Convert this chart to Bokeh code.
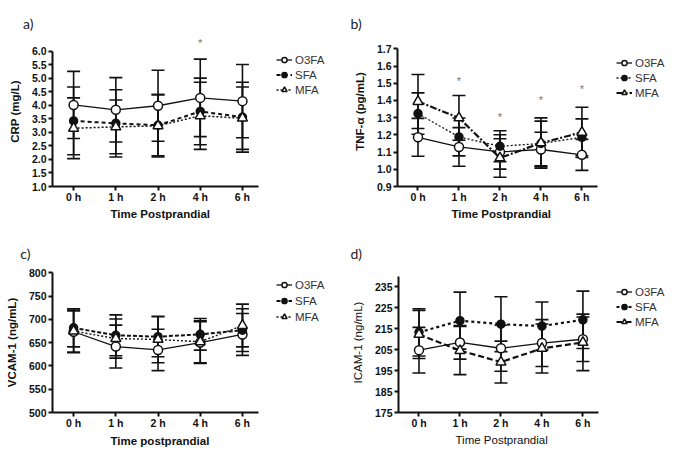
from bokeh.plotting import figure
from bokeh.layouts import column, row
from bokeh.models import (ColumnDataSource, Whisker, TeeHead, Legend, LegendItem,
                          FixedTicker, Range1d, NumeralTickFormatter, Title)
from bokeh.embed import file_html
from bokeh.resources import INLINE
from bokeh.core.properties import value

# ---------------- data ----------------
time_labels = ["0 h", "1 h", "2 h", "4 h", "6 h"]
time_pos = [0, 1, 2, 3, 4]
groups = ["O3FA", "SFA", "MFA"]

# a) CRP (mg/L)
crp_o3fa = [4.01, 3.83, 3.98, 4.27, 4.15]
crp_o3fa_sd = [1.24, 1.19, 1.31, 1.43, 1.35]
crp_sfa = [3.42, 3.33, 3.26, 3.77, 3.56]
crp_sfa_sd = [1.25, 1.24, 1.13, 1.23, 1.29]
crp_mfa = [3.15, 3.20, 3.24, 3.61, 3.52]
crp_mfa_sd = [1.12, 0.99, 1.15, 1.24, 1.15]
crp_sig = [None, None, None, 6.29, None]

# b) TNF-alpha (pg/mL)
tnf_o3fa = [1.186, 1.130, 1.101, 1.115, 1.084]
tnf_o3fa_sd = [0.110, 0.112, 0.100, 0.100, 0.090]
tnf_sfa = [1.324, 1.188, 1.134, 1.150, 1.186]
tnf_sfa_sd = [0.120, 0.110, 0.090, 0.130, 0.107]
tnf_mfa = [1.394, 1.299, 1.066, 1.153, 1.215]
tnf_mfa_sd = [0.157, 0.130, 0.112, 0.146, 0.146]
tnf_sig = [None, 1.512, 1.303, 1.405, 1.464]

# c) VCAM-1 (ng/mL)
vcam_o3fa = [673.6, 641.8, 634.5, 650.4, 667.8]
vcam_o3fa_sd = [45, 46, 44.5, 45, 45]
vcam_sfa = [682, 666, 663, 668, 677]
vcam_sfa_sd = [41, 44, 43, 34, 46]
vcam_mfa = [675, 659, 657, 652, 687]
vcam_mfa_sd = [45, 42, 50, 45, 46]
vcam_sig = [None, None, None, None, None]

# d) ICAM-1 (ng/mL)
icam_o3fa = [204.8, 208.5, 205.7, 208.2, 210.0]
icam_o3fa_sd = [10.9, 8.0, 11.0, 11.2, 10.6]
icam_sfa = [213.3, 218.9, 217.2, 216.3, 219.3]
icam_sfa_sd = [11.3, 13.6, 13.1, 11.5, 13.7]
icam_mfa = [212.3, 204.6, 199.1, 205.6, 208.5]
icam_mfa_sd = [11.5, 11.5, 10.0, 11.7, 13.5]
icam_sig = [None, None, None, None, None]

INK = "#111111"
FONT = "Liberation Sans"
X0, X1 = -0.5, 4.38


def make_panel(letter, ylabel, xlabel, series, sig, y_start, y_top, y_end, y_ticks, y_fmt,
               width, height, left, top, bottom, axis_px, title_align, title_off,
               title_standoff, xl_off, xl_standoff, leg_x, leg_top,
               leg_spacing, styles, xlabel_bold=True, ylabel_bold=True):
    right = 2
    frame_w = width - left - right
    x_end = X0 + (X1 - X0) * frame_w / axis_px
    p = figure(width=width, height=height, x_range=Range1d(X0, x_end),
               y_range=Range1d(y_start, y_end), output_backend="svg",
               toolbar_location=None, min_border_left=left, min_border_right=right,
               min_border_top=top, min_border_bottom=bottom, title=letter)
    p.outline_line_color = None
    p.grid.visible = False
    p.background_fill_color = "white"
    p.border_fill_color = "white"

    # panel letter
    p.title.text_font = "Lato"
    p.title.text_font_size = "14px"
    p.title.text_font_style = "normal"
    p.title.text_color = "#222222"
    p.title.align = title_align
    p.title.offset = title_off
    p.title.standoff = title_standoff

    # x axis title, centred under the drawn axis
    xt = Title(text=xlabel, align="left", offset=xl_off, standoff=xl_standoff,
               text_font=FONT, text_font_size="11.5px",
               text_font_style="bold" if xlabel_bold else "normal", text_color=INK)
    p.add_layout(xt, "below")

    # axes
    for ax in (p.xaxis[0], p.yaxis[0]):
        ax.axis_line_width = 2
        ax.axis_line_color = INK
        ax.major_tick_line_width = 2
        ax.major_tick_line_color = INK
        ax.major_tick_out = 4
        ax.major_tick_in = 0
        ax.minor_tick_line_color = None
        ax.major_label_text_font = FONT
        ax.major_label_text_font_style = "bold"
        ax.major_label_text_font_size = "10.5px"
        ax.major_label_text_color = INK
        ax.axis_label_text_font = FONT
        ax.axis_label_text_font_size = "11.5px"
        ax.axis_label_text_color = INK
    p.xaxis.ticker = FixedTicker(ticks=time_pos)
    p.xaxis.major_label_overrides = {t: l for t, l in zip(time_pos, time_labels)}
    p.xaxis.bounds = (X0, X1)
    p.xaxis.major_label_standoff = 0
    p.xaxis.axis_label_standoff = 0
    p.yaxis.ticker = FixedTicker(ticks=y_ticks)
    p.yaxis.formatter = NumeralTickFormatter(format=y_fmt)
    p.yaxis.bounds = (y_start, y_top)
    p.yaxis.axis_label = ylabel
    p.yaxis.axis_label_text_font_style = "bold" if ylabel_bold else "normal"
    p.yaxis.major_label_standoff = 2
    p.yaxis.axis_label_standoff = 8

    srcs = []
    for name, (mean, sd), st in zip(groups, series, styles):
        lo = [m - s for m, s in zip(mean, sd)]
        hi = [m + s for m, s in zip(mean, sd)]
        src = ColumnDataSource(dict(x=time_pos, y=mean, lo=lo, hi=hi))
        w = Whisker(base="x", lower="lo", upper="hi", source=src,
                    line_color=INK, line_width=1.6,
                    upper_head=TeeHead(size=13, line_color=INK, line_width=1.6),
                    lower_head=TeeHead(size=13, line_color=INK, line_width=1.6))
        p.add_layout(w)
        srcs.append((name, src, st))

    legend_items = []
    for name, src, st in srcs:
        ln = p.line("x", "y", source=src, line_color=INK, line_width=st["lw"],
                    line_dash=st["dash"])
        sc = p.scatter("x", "y", source=src, marker=st["marker"], size=st["size"],
                       line_color=INK, line_width=1.5, fill_color=st["fill"])
        legend_items.append(LegendItem(label=name, renderers=[ln, sc]))

    sx = [t for t, s in zip(time_pos, sig) if s is not None]
    sy = [s for s in sig if s is not None]
    if sx:
        p.text(x=sx, y=sy, text=["*"] * len(sx), text_color="#777777",
               text_font=value(FONT), text_font_size="11px",
               text_align="center", text_baseline="middle")

    leg_h = 4 + 3 * 13 + 2 * leg_spacing
    frame_bottom = height - bottom
    leg = Legend(items=legend_items,
                 location=(leg_x, frame_bottom - leg_top - leg_h),
                 margin=0, padding=2, spacing=leg_spacing,
                 glyph_width=16, glyph_height=13, label_height=13,
                 label_standoff=3, label_text_font=FONT, label_text_font_size="11.5px",
                 label_text_color="#333333", border_line_color=None,
                 background_fill_alpha=0)
    p.add_layout(leg)
    return p


style_a = [dict(dash="solid", lw=1.3, marker="circle", size=9, fill="white"),
           dict(dash="4 3", lw=2, marker="circle", size=8, fill=INK),
           dict(dash="2 2", lw=1.5, marker="triangle", size=10, fill="white")]
style_b = [dict(dash="solid", lw=1.3, marker="circle", size=9, fill="white"),
           dict(dash="2 2", lw=1.3, marker="circle", size=8, fill=INK),
           dict(dash="7 2 2 2", lw=2.2, marker="triangle", size=10, fill="white")]
style_c = [dict(dash="solid", lw=1.3, marker="circle", size=9, fill="white"),
           dict(dash="4 2", lw=2, marker="circle", size=8, fill=INK),
           dict(dash="2 2", lw=1.4, marker="triangle", size=10, fill="white")]
style_d = [dict(dash="solid", lw=1.3, marker="circle", size=9, fill="white"),
           dict(dash="3 3", lw=2.2, marker="circle", size=8, fill=INK),
           dict(dash="6 3", lw=2.2, marker="triangle", size=10, fill="white")]

pa = make_panel("a)", "CRP (mg/L)", "Time Postprandial",
                [(crp_o3fa, crp_o3fa_sd), (crp_sfa, crp_sfa_sd), (crp_mfa, crp_mfa_sd)],
                crp_sig, 1.0, 6.0, 6.536, [1.0 + 0.5 * i for i in range(11)], "0.0",
                342, 231, 52, 36, 40, 206, "right", 307, 10,
                58, 0, 224, 54, 2, style_a)
pb = make_panel("b)", "TNF-\u03b1 (pg/mL)", "Time Postprandial",
                [(tnf_o3fa, tnf_o3fa_sd), (tnf_sfa, tnf_sfa_sd), (tnf_mfa, tnf_mfa_sd)],
                tnf_sig, 0.9, 1.7, 1.772, [0.9 + 0.1 * i for i in range(9)], "0.0",
                342, 231, 55, 36, 45, 200, "left", -47, 10,
                54, 0, 219, 52, 2, style_b)
pc = make_panel("c)", "VCAM-1 (ng/mL)", "Time postprandial",
                [(vcam_o3fa, vcam_o3fa_sd), (vcam_sfa, vcam_sfa_sd), (vcam_mfa, vcam_mfa_sd)],
                vcam_sig, 500, 800, 801, [500 + 50 * i for i in range(7)], "0",
                342, 226, 52, 20, 45, 206, "right", 310, 21,
                58, 2, 224, 43, 3, style_c)
pd_ = make_panel("d)", "ICAM-1 (ng/mL)", "Time Postprandial",
                 [(icam_o3fa, icam_o3fa_sd), (icam_sfa, icam_sfa_sd), (icam_mfa, icam_mfa_sd)],
                 icam_sig, 175, 240, 241.9, [175 + 10 * i for i in range(7)], "0",
                 342, 226, 56, 20, 44, 200, "left", -48, 22,
                 57, 0, 218, 51, 2, style_d,
                 xlabel_bold=False, ylabel_bold=False)

layout = column(row(pa, pb), row(pc, pd_))
open("out.html", "w").write(file_html(layout, INLINE))
